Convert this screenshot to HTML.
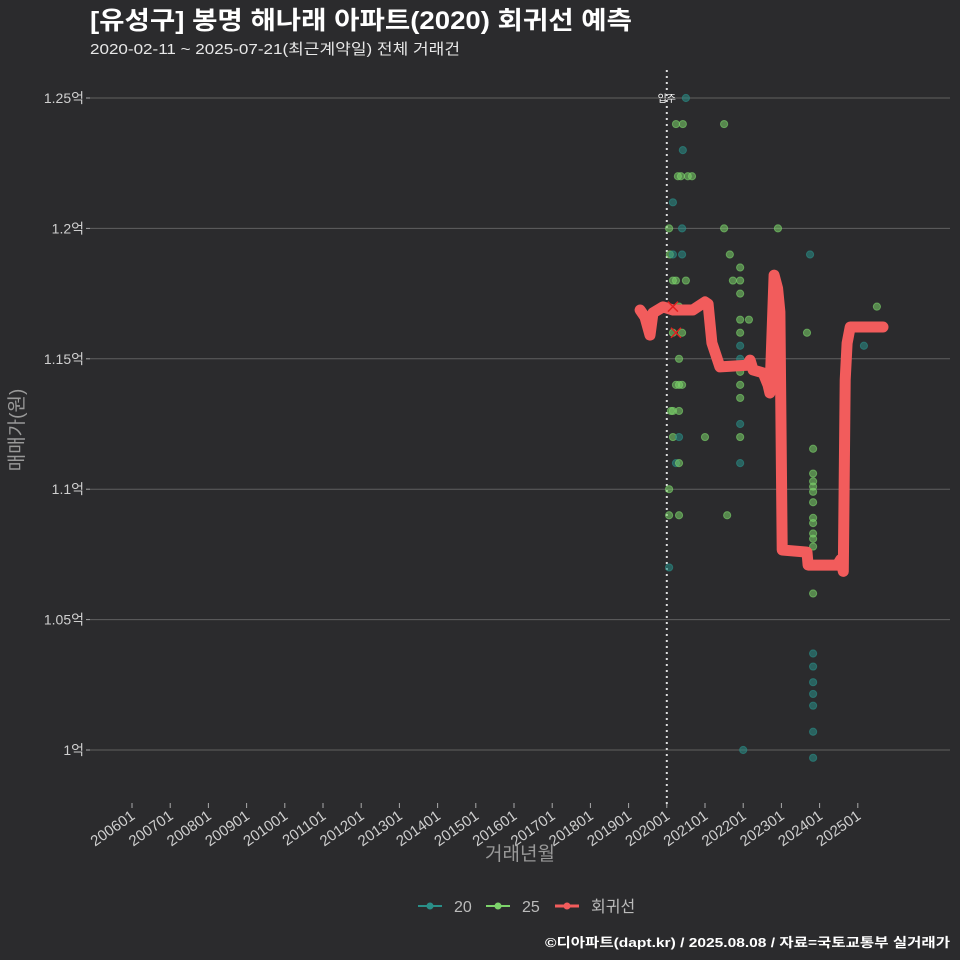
<!DOCTYPE html>
<html><head><meta charset="utf-8"><style>
html,body{margin:0;padding:0;background:#2b2b2d;}
svg{display:block;font-family:"Liberation Sans","Noto Sans CJK KR",sans-serif;}
</style></head><body>
<svg id="chart" width="960" height="960">
<rect width="960" height="960" fill="#2b2b2d"/>
<text x="90" y="29" fill="#ffffff" font-size="25" font-weight="bold" textLength="542" lengthAdjust="spacingAndGlyphs">[유성구] 봉명 해나래 아파트(2020) 회귀선 예측</text>
<text x="90" y="54" fill="#e8e8e8" font-size="15" textLength="370" lengthAdjust="spacingAndGlyphs">2020-02-11 ~ 2025-07-21(최근계약일) 전체 거래건</text>
<g id="grid"></g>
<g id="xaxis"></g>
<g id="yaxis"></g>
<g id="marks"></g>
<text x="520" y="860" fill="#999" font-size="19" text-anchor="middle">거래년월</text>
<text transform="translate(23,430) rotate(-90)" fill="#999" font-size="19" text-anchor="middle">매매가(원)</text>
<g>
<g><line x1="418" y1="906" x2="442" y2="906" stroke="#2a8f88" stroke-width="2"/><circle cx="430" cy="906" r="3.5" fill="#2a8f88"/><text x="454" y="912" fill="#bbb" font-size="16">20</text></g>
<g><line x1="486" y1="906" x2="510" y2="906" stroke="#7cd36a" stroke-width="2"/><circle cx="498" cy="906" r="3.5" fill="#7cd36a"/><text x="522" y="912" fill="#bbb" font-size="16">25</text></g>
<g><line x1="555" y1="906" x2="579" y2="906" stroke="#f25c5c" stroke-width="3"/><circle cx="567" cy="906" r="3.5" fill="#f25c5c"/><text x="591" y="912" fill="#bbb" font-size="16">회귀선</text></g>
</g>
<text x="950" y="947" fill="#ffffff" font-size="13" font-weight="bold" text-anchor="end" textLength="405" lengthAdjust="spacingAndGlyphs">©디아파트(dapt.kr) / 2025.08.08 / 자료=국토교통부 실거래가</text>
</svg>
<script>
const xTickYears=[2006,2007,2008,2009,2010,2011,2012,2013,2014,2015,2016,2017,2018,2019,2020,2021,2022,2023,2024,2025];
const xTickLabels=["200601","200701","200801","200901","201001","201101","201201","201301","201401","201501","201601","201701","201801","201901","202001","202101","202201","202301","202401","202501"];
const yTicks=[1.0,1.05,1.1,1.15,1.2,1.25];
const yTickLabels=["1억","1.05억","1.1억","1.15억","1.2억","1.25억"];
const ptYears=[2020.50,2020.24,2020.42,2020.42,2020.29,2020.37,2020.55,2020.66,2020.16,2020.06,2020.40,2020.08,2020.16,2020.40,2020.16,2020.24,2020.50,2020.32,2020.16,2020.40,2020.32,2020.24,2020.32,2020.40,2020.11,2020.16,2020.32,2020.16,2020.32,2020.24,2020.32,2020.06,2020.06,2020.32,2020.06,
2021.50,2021.50,2021.65,2021.92,2021.73,2021.92,2021.92,2021.92,2022.15,2021.92,2021.92,2021.92,2021.92,2021.92,2021.92,2021.92,2021.92,2021.00,2021.92,2021.58,2022.91,2023.75,2023.67,2025.50,2025.16,2022.00,
2023.83,2023.83,2023.83,2023.83,2023.83,2023.83,2023.83,2023.83,2023.83,2023.83,2023.83,2023.83,2023.83,2023.83,2023.83,2023.83,2023.83,2023.83,2023.83];
const ptValues=[1.25,1.24,1.24,1.23,1.22,1.22,1.22,1.22,1.21,1.20,1.20,1.19,1.19,1.19,1.18,1.18,1.18,1.17,1.16,1.16,1.15,1.14,1.14,1.14,1.13,1.13,1.13,1.12,1.12,1.11,1.11,1.10,1.09,1.09,1.07,
1.24,1.20,1.19,1.185,1.18,1.18,1.175,1.165,1.165,1.16,1.155,1.15,1.145,1.14,1.135,1.125,1.12,1.12,1.11,1.09,1.20,1.19,1.16,1.17,1.155,1.0,
1.1155,1.106,1.103,1.099,1.101,1.095,1.089,1.087,1.083,1.081,1.078,1.060,1.037,1.032,1.026,1.0215,1.017,1.007,0.997];
const ptTypes=[20,25,25,20,25,25,25,25,20,25,20,25,20,20,25,25,25,25,25,25,25,25,25,25,25,25,25,25,20,20,25,25,25,25,20,
25,25,25,25,25,25,25,25,25,25,20,20,25,25,25,20,25,25,20,25,25,20,25,25,20,20,
25,25,25,25,25,25,25,25,25,25,25,25,20,20,20,20,20,20,20];
const regYears=[2019.30,2019.43,2019.56,2019.64,2019.90,2020.16,2020.68,2021.00,2021.08,2021.18,2021.39,2022.10,2022.18,2022.26,2022.52,2022.65,2022.70,2022.81,2022.90,2022.96,2023.02,2023.67,2023.70,2024.46,2024.55,2024.62,2024.67,2024.72,2024.80,2025.66];
const regValues=[1.1687,1.1660,1.1591,1.1676,1.1699,1.1687,1.1687,1.1718,1.1710,1.1561,1.1469,1.1475,1.1495,1.1457,1.1446,1.1400,1.1369,1.1821,1.1770,1.1680,1.0767,1.0759,1.0709,1.0709,1.0730,1.0685,1.1419,1.1560,1.1622,1.1622];
const moveInYear=2020.0;
const xS=y=>132+(y-2006)*38.2;
const yS=v=>750-(v-1.0)*2608;
const NS="http://www.w3.org/2000/svg";
function mk(tag,attrs,parent){const e=document.createElementNS(NS,tag);for(const k in attrs)e.setAttribute(k,attrs[k]);parent.appendChild(e);return e;}
const grid=document.getElementById('grid'),xa=document.getElementById('xaxis'),ya=document.getElementById('yaxis'),marks=document.getElementById('marks');
yTicks.forEach((v,i)=>{
 const l=mk('line',{x1:90,x2:950,y1:yS(v),y2:yS(v),stroke:'#606060','stroke-width':1},grid);
 
 
 const t=mk('text',{x:84,y:yS(v)+5,fill:'#cfcfcf','font-size':14,'text-anchor':'end'},ya);
 t.textContent=yTickLabels[i];
 
 
 const tk=mk('line',{x1:86,x2:90,y1:yS(v),y2:yS(v),stroke:'#aaa'},ya);
 
 
});
xTickYears.forEach((y,i)=>{
 const x=xS(y);
 const tk=mk('line',{x1:x,x2:x,y1:803,y2:808,stroke:'#aaa'},xa);
 
 
 const t=mk('text',{transform:`translate(${x+4},818) rotate(-35)`,fill:'#cfcfcf','font-size':15,'text-anchor':'end'},xa);
 t.textContent=xTickLabels[i];
 
 
});
const ml=mk('line',{x1:xS(moveInYear),x2:xS(moveInYear),y1:70,y2:805,stroke:'#dddddd','stroke-width':2,'stroke-dasharray':'2 4'},marks);


const mt=mk('text',{x:xS(moveInYear),y:102,fill:'#fff','font-size':10,'text-anchor':'middle'},marks);
mt.textContent='입주';


ptYears.forEach((y,i)=>{
 const c=mk('circle',{cx:xS(y),cy:yS(ptValues[i]),r:3.6,fill:ptTypes[i]===20?'#2a8f88':'#7cd36a','fill-opacity':0.55,stroke:ptTypes[i]===20?'#2a8f88':'#7cd36a','stroke-opacity':0.6},marks);
 
 
});
const d=regYears.map((y,i)=>(i?'L':'M')+xS(y).toFixed(1)+','+yS(regValues[i]).toFixed(1)).join(' ');
const p=mk('path',{d:d,fill:'none',stroke:'#f25c5c','stroke-width':11,'stroke-linejoin':'round','stroke-linecap':'round'},marks);


[[2020.16,1.17],[2020.24,1.16]].forEach(a=>{
 const g=mk('path',{d:`M${xS(a[0])-5},${yS(a[1])-5}L${xS(a[0])+5},${yS(a[1])+5}M${xS(a[0])+5},${yS(a[1])-5}L${xS(a[0])-5},${yS(a[1])+5}`,stroke:'#e02020','stroke-width':1.5},marks);
 
 
});
</script>
</body></html>
